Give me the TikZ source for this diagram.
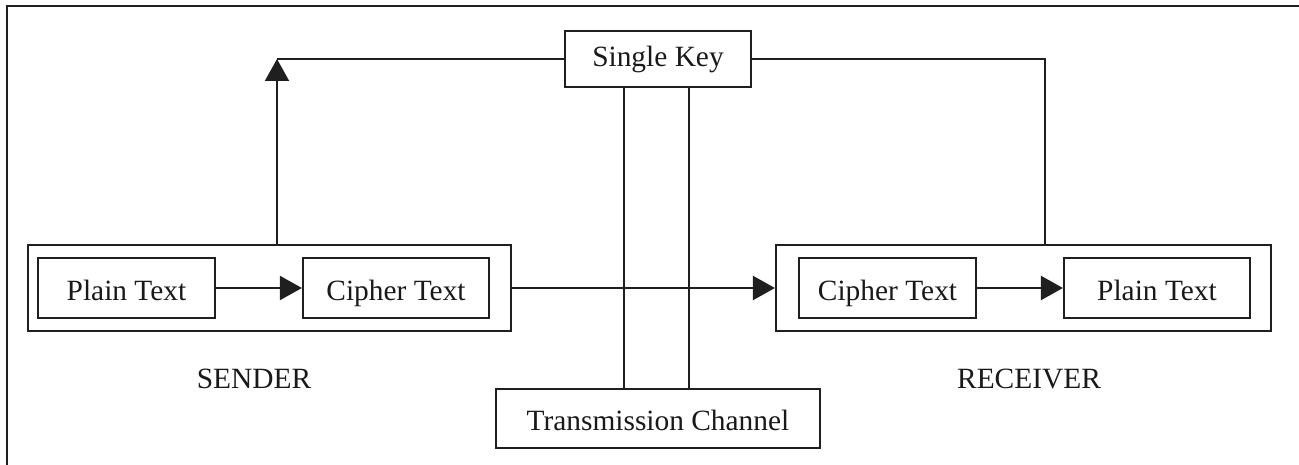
\documentclass[tikz,border=0pt]{standalone}
\usepackage{fontspec}
\setmainfont{Liberation Serif}
\usetikzlibrary{arrows.meta,calc}

\tikzset{
  box/.style={draw=black!88, line width=2.1pt, rectangle, inner sep=0pt,
              font=\fontsize{29.4}{34}\selectfont, text=black!90,
              text height=26pt, text depth=2pt},
  group/.style={draw=black!88, line width=2.1pt, rectangle, inner sep=0pt},
  wire/.style={draw=black!88, line width=2pt},
  flow/.style={wire, -{Triangle[length=22pt, width=24pt]}},
  caption/.style={font=\fontsize{29.4}{34}\selectfont, text=black!90, inner sep=0pt}
}

\begin{document}
\begin{tikzpicture}[x=1pt, y=-1pt]
  \useasboundingbox (0,0) rectangle (1299,465);

  % open frame along the top and left
  \draw[draw=black!88, line width=2.6pt] (7,465) -- (7,6) -- (1299,6);

  % sender side
  \node[group, minimum width=483pt, minimum height=86pt] (sender) at (269.5,288) {};
  \node[box, minimum width=177pt, minimum height=60pt] (splain) at (126.5,288) {Plain Text};
  \node[box, minimum width=186pt, minimum height=60pt] (scipher) at (396,288) {Cipher Text};
  \node[caption] (slabel) at (254,379) {SENDER};

  % receiver side
  \node[group, minimum width=495pt, minimum height=86pt] (receiver) at (1023.5,288) {};
  \node[box, minimum width=177pt, minimum height=60pt] (rcipher) at (887.5,288) {Cipher Text};
  \node[box, minimum width=186pt, minimum height=60pt] (rplain) at (1157,288) {Plain Text};
  \node[caption] (rlabel) at (1029,379) {RECEIVER};

  % key and channel
  \node[box, minimum width=186pt, minimum height=56pt, text height=21pt, text depth=5pt]
    (key) at (658,59) {Single Key};
  \node[box, minimum width=324pt, minimum height=59pt] (channel) at (658,418.5) {Transmission Channel};

  % corner points of the key lines
  \coordinate (kleft) at (277,59);
  \coordinate (kright) at (1045,59);

  % connectors
  \draw[flow] (splain) -- (scipher);
  \draw[flow] (rcipher) -- (rplain);
  \draw[flow] (sender.east) -- (receiver.west);

  \draw[flow] (sender.north -| kleft) -- (kleft);
  \draw[wire] (kleft) -- (key.west);
  \draw[wire] (key.east) -- (kright) -- (receiver.north -| kright);

  \draw[wire] ($(key.south)+(-34,0)$) -- ($(channel.north)+(-34,0)$);
  \draw[wire] ($(key.south)+(31,0)$) -- ($(channel.north)+(31,0)$);
\end{tikzpicture}
\end{document}
